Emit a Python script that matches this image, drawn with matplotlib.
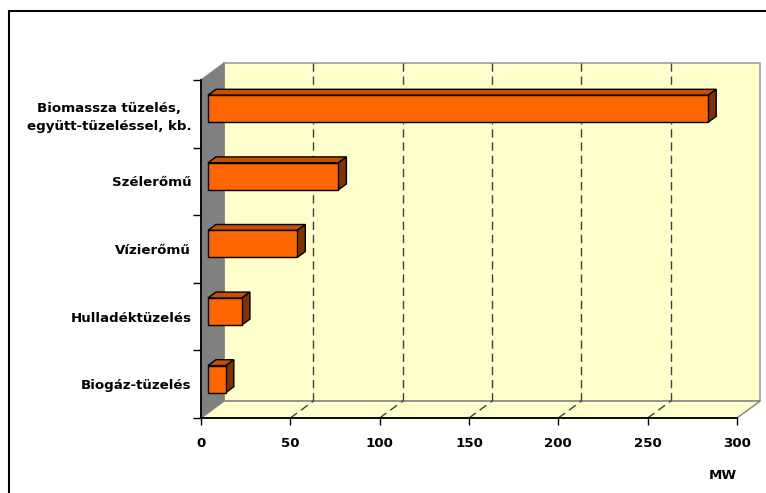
import matplotlib
matplotlib.use("Agg")
import matplotlib.pyplot as plt
from matplotlib.patches import Polygon, Rectangle

plt.rcParams["font.family"] = ["DejaVu Sans"]
plt.rcParams["font.weight"] = "bold"
plt.rcParams["font.size"] = 9.6

# beépített teljesítmény, MW (alulról felfelé)
categories = ["Biogáz-tüzelés", "Hulladéktüzelés", "Vízierőmű", "Szélerőmű",
              "Biomassza tüzelés,\negyütt-tüzeléssel, kb."]
values = [10, 19, 50, 73, 280]
xticks = [0, 50, 100, 150, 200, 250, 300]

XMAX = 300
NCAT = len(categories)
# 3D mélység adat-egységben (x: MW, y: kategória)
DEPTH_X = 12.9
DEPTH_Y = 0.25
BAR_FRONT, BAR_BACK = 0.30, 0.65
BAR_HALF = 0.2

FRONT = "#FF6600"
TOP = "#C65000"
SIDE = "#7F3300"
WALL = "#FFFFCC"
SIDEWALL = "#808080"


def shift(x, y, f):
    return (x + f * DEPTH_X, y + f * DEPTH_Y)


def poly(ax, pts, fc, ec, lw=1.0, z=1):
    ax.add_patch(Polygon(pts, closed=True, facecolor=fc, edgecolor=ec,
                         linewidth=lw, clip_on=False, zorder=z))


fig = plt.figure(figsize=(7.66, 4.93), dpi=100)
ax = fig.add_axes([201 / 766, 75 / 493, 536 / 766, 338 / 493])
ax.set_xlim(0, XMAX)
ax.set_ylim(0, NCAT)
ax.patch.set_visible(False)

# hátfal, oldalfal, padló
poly(ax, [shift(0, 0, 1), shift(XMAX, 0, 1), shift(XMAX, NCAT, 1), shift(0, NCAT, 1)],
     WALL, "#A0A0A0", lw=1.2, z=0)
poly(ax, [(0, 0), (0, NCAT), shift(0, NCAT, 1), shift(0, 0, 1)], SIDEWALL, SIDEWALL, z=0.5)
poly(ax, [(0, 0), (XMAX, 0), shift(XMAX, 0, 1), shift(0, 0, 1)], WALL, "#808080", lw=1.0, z=0.5)

# szaggatott rácsvonalak a hátfalon és a padlón
for v in xticks[1:-1]:
    x0, y0 = shift(v, 0, 1)
    x1, y1 = shift(v, NCAT, 1)
    ax.plot([x0, x1], [y0, y1], color="#404040", lw=1, dashes=(6, 3.5),
            clip_on=False, zorder=0.8)
    ax.plot([v, x0], [0, y0], color="#404040", lw=1, dashes=(6, 3.5),
            clip_on=False, zorder=0.8)

# hasábok
for i, v in enumerate(values):
    lo, hi = i + 0.5 - BAR_HALF, i + 0.5 + BAR_HALF
    poly(ax, [shift(0, hi, BAR_FRONT), shift(v, hi, BAR_FRONT),
              shift(v, hi, BAR_BACK), shift(0, hi, BAR_BACK)], TOP, "black", z=2)
    poly(ax, [shift(v, lo, BAR_FRONT), shift(v, hi, BAR_FRONT),
              shift(v, hi, BAR_BACK), shift(v, lo, BAR_BACK)], SIDE, "black", z=2)
    poly(ax, [shift(0, lo, BAR_FRONT), shift(v, lo, BAR_FRONT),
              shift(v, hi, BAR_FRONT), shift(0, hi, BAR_FRONT)], FRONT, "black", z=3)

# tengelyek
for s in ["top", "right"]:
    ax.spines[s].set_visible(False)
for s in ["left", "bottom"]:
    ax.spines[s].set_linewidth(1.3)
    ax.spines[s].set_zorder(4)

ax.set_xticks(xticks)
ax.set_xticklabels([str(t) for t in xticks])
ax.tick_params(axis="x", length=5, width=1, pad=9)

ax.set_yticks([i + 0.5 for i in range(NCAT)])
ax.set_yticklabels(categories, multialignment="center", linespacing=1.5)
ax.set_yticks(range(NCAT + 1), minor=True)
ax.tick_params(axis="y", which="major", length=0, pad=7)
ax.tick_params(axis="y", which="minor", length=6, width=1)

ax.text(1.0, -0.17, "MW", transform=ax.transAxes, ha="right", va="center",
        fontweight="bold")

# keret
fig.patches.append(Rectangle((9 / 766, -0.1), 1.2, (493 - 11) / 493 + 0.1,
                             transform=fig.transFigure, fill=False,
                             edgecolor="black", linewidth=1.5))

fig.savefig("out.png", dpi=100)
